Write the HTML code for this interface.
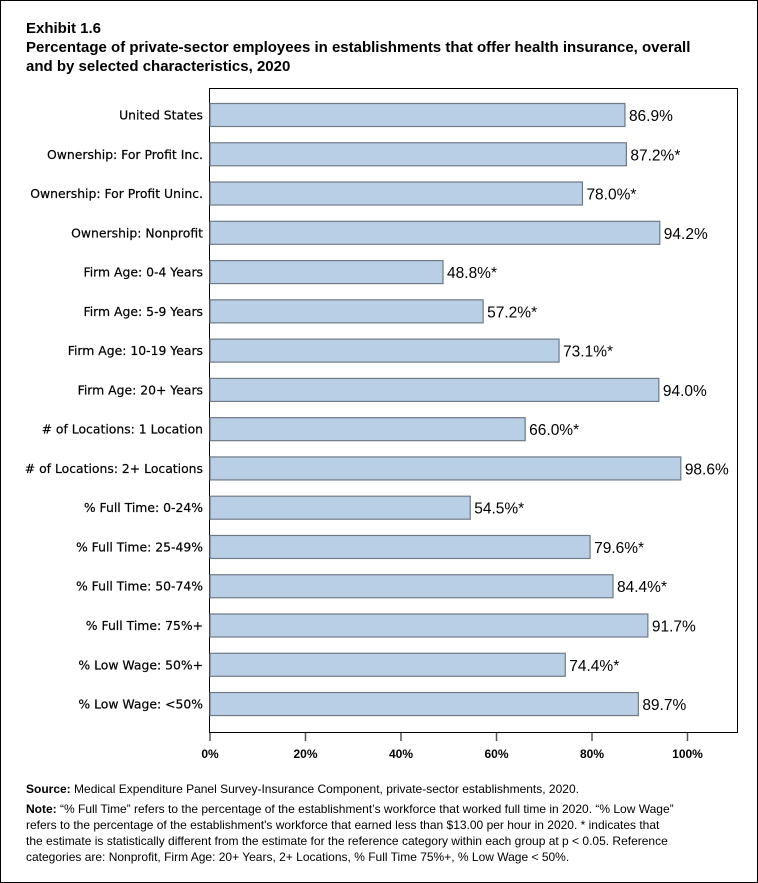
<!DOCTYPE html>
<html><head><style>
body{margin:0;background:#fff;}
svg{display:block;font-family:"Liberation Sans",Arial,sans-serif;}
</style></head><body>
<svg width="758" height="883" xmlns="http://www.w3.org/2000/svg">
<rect x="0.5" y="0.5" width="757" height="882" fill="#fff" stroke="#000"/>
<text x="26" y="33" font-size="15" font-weight="bold">Exhibit 1.6</text>
<text x="26" y="52" font-size="15" font-weight="bold">Percentage of private-sector employees in establishments that offer health insurance, overall</text>
<text x="26" y="71" font-size="15" font-weight="bold">and by selected characteristics, 2020</text>
<rect x="209.5" y="88.5" width="528" height="644" fill="#fff" stroke="#000"/>
<g id="bars" font-size="14"></g>
<g stroke="#555" stroke-width="1.5">
<line x1="210" y1="733" x2="210" y2="741"/><line x1="305.5" y1="733" x2="305.5" y2="741"/><line x1="401" y1="733" x2="401" y2="741"/><line x1="496.5" y1="733" x2="496.5" y2="741"/><line x1="592" y1="733" x2="592" y2="741"/><line x1="687.5" y1="733" x2="687.5" y2="741"/>
</g>
<g font-size="12" font-weight="bold" text-anchor="middle">
<text x="210" y="758">0%</text><text x="305.5" y="758">20%</text><text x="401" y="758">40%</text><text x="496.5" y="758">60%</text><text x="592" y="758">80%</text><text x="687.5" y="758">100%</text>
</g>
<g font-size="12">
<text x="26" y="793"><tspan font-weight="bold">Source:</tspan> Medical Expenditure Panel Survey-Insurance Component, private-sector establishments, 2020.</text>
<text x="26" y="813"><tspan font-weight="bold">Note:</tspan> “% Full Time” refers to the percentage of the establishment’s workforce that worked full time in 2020. “% Low Wage”</text>
<text x="26" y="829">refers to the percentage of the establishment's workforce that earned less than $13.00 per hour in 2020. * indicates that</text>
<text x="26" y="845">the estimate is statistically different from the estimate for the reference category within each group at p &lt; 0.05.  Reference</text>
<text x="26" y="861">categories are: Nonprofit, Firm Age: 20+ Years, 2+ Locations, % Full Time 75%+, % Low Wage &lt; 50%.</text>
</g>
</svg>
<script>
var d=[["United States",86.9,""],["Ownership: For Profit Inc.",87.2,"*"],["Ownership: For Profit Uninc.",78.0,"*"],["Ownership: Nonprofit",94.2,""],["Firm Age: 0-4 Years",48.8,"*"],["Firm Age: 5-9 Years",57.2,"*"],["Firm Age: 10-19 Years",73.1,"*"],["Firm Age: 20+ Years",94.0,""],["# of Locations: 1 Location",66.0,"*"],["# of Locations: 2+ Locations",98.6,""],["% Full Time: 0-24%",54.5,"*"],["% Full Time: 25-49%",79.6,"*"],["% Full Time: 50-74%",84.4,"*"],["% Full Time: 75%+",91.7,""],["% Low Wage: 50%+",74.4,"*"],["% Low Wage: <50%",89.7,""]];
var g=document.getElementById("bars"),s="";
d.forEach(function(r,i){var cy=115+i*39.27,w=r[1]*4.775,x2=210+w;
var lab=r[0].replace(/&/g,"&amp;").replace(/</g,"&lt;");
s+='<rect x="210" y="'+(cy-11.5)+'" width="'+w+'" height="23" fill="#b9cfe6" stroke="#6f7a87" stroke-width="1.2"/>';
s+='<text x="203" y="'+(cy+4.5)+'" font-size="12.4" text-anchor="end" font-family="DejaVu Sans,sans-serif" stroke="#000" stroke-width="0.2">'+lab+'</text>';
s+='<text x="'+(x2+4)+'" y="'+(cy+6)+'" font-size="15.5">'+r[1].toFixed(1)+'%'+r[2]+'</text>';});
g.innerHTML=s;
</script>
</body></html>
